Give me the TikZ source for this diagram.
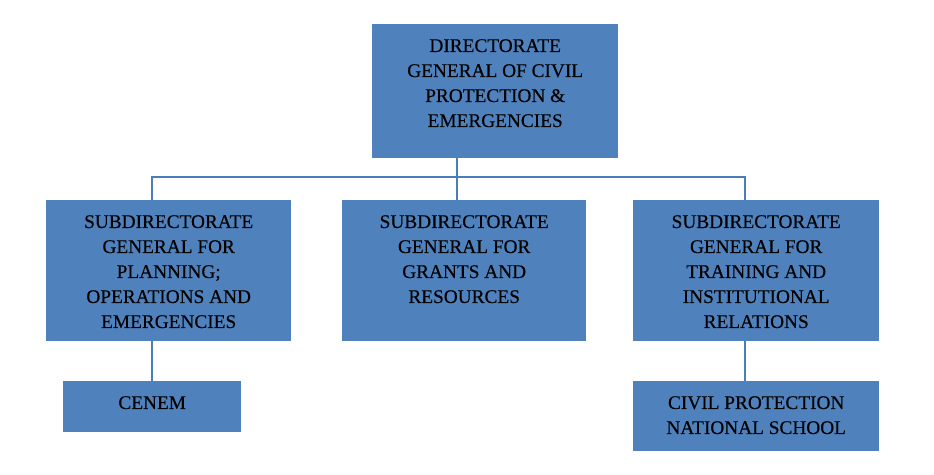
\documentclass[tikz,border=0pt]{standalone}
\usepackage{fontspec}
\setmainfont{Liberation Serif}[FakeBold=0.25]
\definecolor{boxblue}{HTML}{4F81BD}
\definecolor{lineblue}{HTML}{4A7EBB}
\begin{document}
\begin{tikzpicture}[x=1pt,y=-1pt,
  box/.style={fill=boxblue, draw=none, inner sep=0pt, anchor=north west},
  txt/.style={anchor=north, inner sep=0pt, align=center, font=\fontsize{19.3}{25}\selectfont, text=black},
  conn/.style={draw=lineblue, line width=1.5pt}]
\useasboundingbox (0,0) rectangle (934,474);
% boxes
\node[box, minimum width=246pt, minimum height=134pt] (dg) at (372,24) {};
\node[box, minimum width=245pt, minimum height=141pt] (sl) at (46,200) {};
\node[box, minimum width=244pt, minimum height=141pt] (sc) at (342,200) {};
\node[box, minimum width=246pt, minimum height=141pt] (sr) at (633,200) {};
\node[box, minimum width=178pt, minimum height=51pt] (cenem) at (63,381) {};
\node[box, minimum width=246pt, minimum height=70pt] (cpns) at (633,381) {};
% texts
\node[txt] (dgt) at ([yshift=-15pt]dg.north) {DIRECTORATE\\GENERAL OF CIVIL\\PROTECTION \&\\EMERGENCIES};
\node[txt] (slt) at ([yshift=-15pt]sl.north) {SUBDIRECTORATE\\GENERAL FOR\\PLANNING;\\OPERATIONS AND\\EMERGENCIES};
\node[txt] (sct) at ([yshift=-15pt]sc.north) {SUBDIRECTORATE\\GENERAL FOR\\GRANTS AND\\RESOURCES};
\node[txt] (srt) at ([yshift=-15pt]sr.north) {SUBDIRECTORATE\\GENERAL FOR\\TRAINING AND\\INSTITUTIONAL\\RELATIONS};
\node[txt] (cenemt) at ([yshift=-15pt]cenem.north) {CENEM};
\node[txt] (cpnst) at ([yshift=-15pt]cpns.north) {CIVIL PROTECTION\\NATIONAL SCHOOL};
% connectors
\coordinate (bus) at (457,177);
\draw[conn] ([xshift=85pt]dg.south west) -- (bus);
\draw[conn] ([xshift=106pt]sl.north west) |- (bus) -| ([xshift=112pt]sr.north west);
\draw[conn] (bus) -- ([xshift=115pt]sc.north west);
\draw[conn] ([xshift=106pt]sl.south west) -- ([xshift=89pt]cenem.north west);
\draw[conn] ([xshift=112pt]sr.south west) -- ([xshift=112pt]cpns.north west);
\end{tikzpicture}
\end{document}
